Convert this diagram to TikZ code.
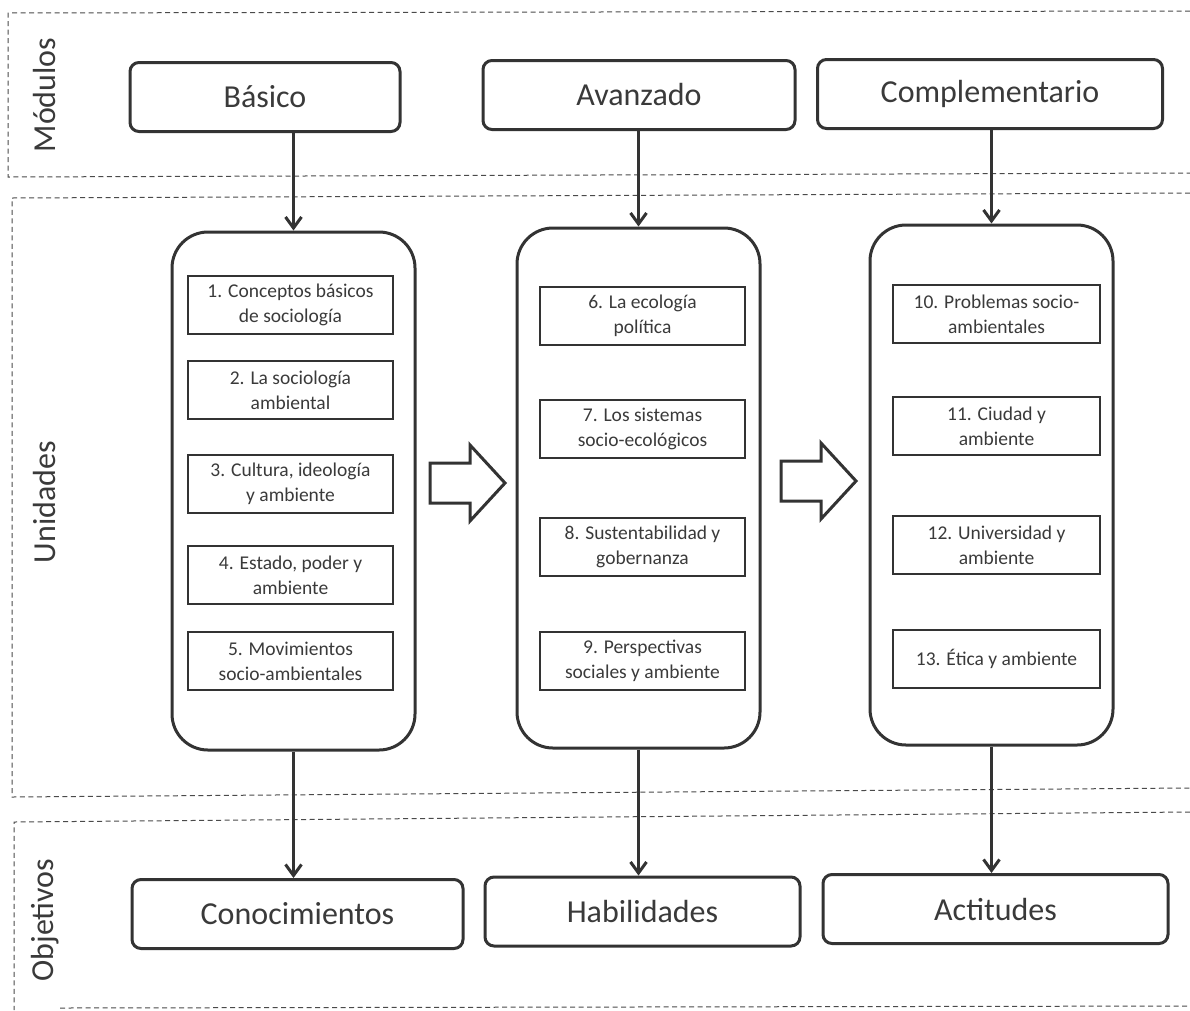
\documentclass[tikz,border=0pt]{standalone}
\usepackage{fontspec}
\setmainfont{Carlito}
\usetikzlibrary{arrows.meta}
\definecolor{ink}{HTML}{333333}
\definecolor{txt}{HTML}{3A3A3A}
\definecolor{dash}{HTML}{4A4A4A}
\begin{document}
\begin{tikzpicture}[x=1pt,y=-1pt,
  modbox/.style={draw=ink,line width=3pt,rounded corners=9pt,inner sep=0pt,
    text=txt,font=\fontsize{32}{36}\selectfont,minimum width=#1,minimum height=69pt},
  colbox/.style={draw=ink,line width=3pt,rounded corners=36pt,inner sep=0pt,
    minimum width=243pt,minimum height=#1},
  unitbox/.style={draw=ink,line width=1.3pt,inner sep=0pt,align=center,text=txt,
    font=\fontsize{19.5}{25}\selectfont,minimum width=#1,minimum height=58pt},
  sidelabel/.style={rotate=90,text=txt,font=\fontsize{32}{36}\selectfont,inner sep=0pt},
  frame/.style={draw=dash,line width=1pt,dash pattern=on 5pt off 3.5pt},
  conn/.style={draw=ink,line width=3pt,-{Straight Barb[length=11pt,width=16pt,line width=3pt]}},
  blockarrow/.style={draw=ink,line width=3pt,line join=miter,fill=white}]
\useasboundingbox (0,0) rectangle (1190,1010);
\fill[white] (0,0) rectangle (1190,1010);

% dashed frames
\draw[frame] (1190,11) -- (8,13) -- (8,177) -- (1190,173);
\draw[frame] (1190,193) -- (12,198) -- (12,797) -- (1190,788);
\draw[frame] (1190,812) -- (14,822) -- (14,1010);
\draw[frame] (60,1008) -- (1190,1006);

% side labels
\node[sidelabel] (lmod) at (45,95) {Módulos};
\node[sidelabel] (luni) at (45,502) {Unidades};
\node[sidelabel] (lobj) at (45,920) {Objetivos};

% module boxes
\node[modbox=270pt] (bas) at (265,97) {Básico};
\node[modbox=312pt] (ava) at (639,95) {Avanzado};
\node[modbox=345pt] (com) at (990,94) {Complementario};

% column boxes
\node[colbox=518pt] (c1) at (293.5,491) {};
\node[colbox=520pt] (c2) at (638.5,488) {};
\node[colbox=520pt] (c3) at (991.5,485) {};

% units
\node[unitbox=205pt] (u1) at (290.5,305) {1. Conceptos básicos\\de sociología};
\node[unitbox=205pt] (u2) at (290.5,390) {2. La sociología\\ambiental};
\node[unitbox=205pt] (u3) at (290.5,484) {3. Cultura, ideología\\y ambiente};
\node[unitbox=205pt] (u4) at (290.5,575) {4. Estado, poder y\\ambiente};
\node[unitbox=205pt] (u5) at (290.5,661) {5. Movimientos\\socio-ambientales};

\node[unitbox=205pt] (u6) at (642.5,316) {6. La ecología\\política};
\node[unitbox=205pt] (u7) at (642.5,429) {7. Los sistemas\\socio-ecológicos};
\node[unitbox=205pt] (u8) at (642.5,547) {8. Sustentabilidad y\\gobernanza};
\node[unitbox=205pt] (u9) at (642.5,661) {9. Perspectivas\\sociales y ambiente};

\node[unitbox=207pt] (u10) at (996.5,314) {10. Problemas socio-\\ambientales};
\node[unitbox=207pt] (u11) at (996.5,426) {11. Ciudad y\\ambiente};
\node[unitbox=207pt] (u12) at (996.5,545) {12. Universidad y\\ambiente};
\node[unitbox=207pt] (u13) at (996.5,659) {13. Ética y ambiente};

% objective boxes
\node[modbox=331pt] (obc) at (297.5,914) {Conocimientos};
\node[modbox=315pt] (obh) at (642.5,911.5) {Habilidades};
\node[modbox=345pt] (oba) at (995.5,909) {Actitudes};

% connectors
\draw[conn] (c1.north |- bas.south) -- (c1.north);
\draw[conn] (c2.north |- ava.south) -- (c2.north);
\draw[conn] (c3.north |- com.south) -- (c3.north);
\draw[conn] (c1.south) -- (c1.south |- obc.north);
\draw[conn] (c2.south) -- (c2.south |- obh.north);
\draw[conn] (c3.south) -- (c3.south |- oba.north);

% block arrows
\coordinate (ba1) at (430,483);
\coordinate (ba2) at (781,481);
\draw[blockarrow] (ba1) ++(0,-20) -- ++(40,0) -- ++(0,-18) -- ++(35,38) -- ++(-35,38) -- ++(0,-18) -- ++(-40,0) -- cycle;
\draw[blockarrow] (ba2) ++(0,-20) -- ++(40,0) -- ++(0,-18) -- ++(35,38) -- ++(-35,38) -- ++(0,-18) -- ++(-40,0) -- cycle;
\end{tikzpicture}
\end{document}
